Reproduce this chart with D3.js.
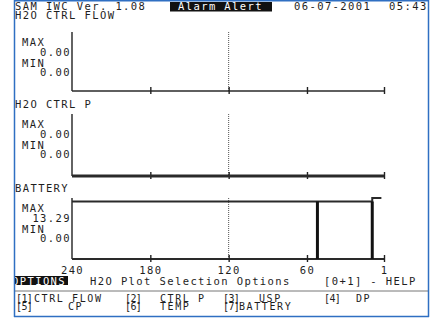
<!DOCTYPE html>
<html>
<head>
<meta charset="utf-8">
<script src="https://cdn.jsdelivr.net/npm/d3@7"></script>
<style>
  html, body { margin: 0; padding: 0; background: #fff; }
  svg text { font-family: 'DejaVu Sans Mono', monospace; font-size: 10.5px; fill: #1e1e1e; letter-spacing: 1.4px; }
  svg text.menu { font-size: 10px; letter-spacing: 1.6px; }
  svg text.menu.key { letter-spacing: -0.6px; }
</style>
</head>
<body>
<div id="chart"></div>
<script>
// time axis (seconds back from now)
const xTicks = [240, 180, 120, 60, 1];
const xTickLabels = ['240', '180', '120', '60', '1'];
const markerTime = 120;

// plot panels
const panelNames = ['H2O CTRL FLOW', 'H2O CTRL P', 'BATTERY'];
const panelMax = [0.00, 0.00, 13.29];
const panelMin = [0.00, 0.00, 0.00];

// traces: [time, value]
const flowSeries = [];
const ctrlPSeries = [[240, 0], [1, 0]];
const batterySeries = [[240, 13.29], [10, 13.29], [10, 14.1], [3, 14.1]];
const batteryDrops = [52, 10];
const seriesList = [flowSeries, ctrlPSeries, batterySeries];

// menu texts
const menuRow1 = ['[1]', 'CTRL FLOW', '[2]', 'CTRL P', '[3]', 'USP', '[4]', 'DP'];
const menuRow2 = ['[5]', 'CP', '[6]', 'TEMP', '[7]', 'BATTERY'];

const W = 432, H = 320;
const svg = d3.select('#chart').append('svg')
  .attr('width', W).attr('height', H);

// panel geometry
const layout = [
  { title: 19, top: 32, base: 91, lw: 1.6 },
  { title: 108, top: 114, base: 176, lw: 1.6 },
  { title: 192, top: 198, base: 259, lw: 1.8 }
];

const x = d3.scaleLinear().domain([240, 1]).range([72, 384]);

// header
svg.append('text').attr('x', 15).attr('y', 10).text('SAM IWC Ver. 1.08');
svg.append('rect').attr('x', 170).attr('y', 2).attr('width', 102).attr('height', 9.5).attr('fill', '#111');
svg.append('text').attr('x', 178).attr('y', 10).style('fill', '#fff').text('Alarm Alert');
svg.append('text').attr('x', 294).attr('y', 10).text('06-07-2001');
svg.append('text').attr('x', 389).attr('y', 10).text('05:43');

layout.forEach((p, i) => {
  const g = svg.append('g');
  const lo = panelMin[i], hi = panelMax[i];
  const y = d3.scaleLinear()
    .domain(hi === lo ? [lo, lo + 1] : [lo, hi])
    .range([p.base, p.top + 3.5]);

  g.append('text').attr('x', 15).attr('y', p.title).text(panelNames[i]);
  g.append('text').attr('x', 22).attr('y', p.top + 14).text('MAX');
  g.append('text').attr('x', 71).attr('y', p.top + 23.5).attr('text-anchor', 'end').text(hi.toFixed(2));
  g.append('text').attr('x', 22).attr('y', p.top + 34.5).text('MIN');
  g.append('text').attr('x', 71).attr('y', p.top + 44).attr('text-anchor', 'end').text(lo.toFixed(2));

  // marker line
  g.append('line')
    .attr('x1', x(markerTime)).attr('x2', x(markerTime))
    .attr('y1', p.top).attr('y2', p.base)
    .attr('stroke', '#555').attr('stroke-width', 1).attr('stroke-dasharray', '1,1');

  // left axis
  g.append('line')
    .attr('x1', x(240)).attr('x2', x(240))
    .attr('y1', p.top).attr('y2', p.base)
    .attr('stroke', '#222').attr('stroke-width', 1.4);

  // baseline
  g.append('line')
    .attr('x1', x(240)).attr('x2', x(1))
    .attr('y1', p.base).attr('y2', p.base)
    .attr('stroke', '#2a2a2a').attr('stroke-width', p.lw);

  // ticks crossing the baseline
  const axis = g.append('g')
    .attr('transform', `translate(0,${p.base - 4})`)
    .call(d3.axisBottom(x).tickValues(xTicks.slice(1)).tickSize(7).tickFormat(''));
  axis.select('.domain').remove();
  axis.selectAll('line').attr('stroke', '#222').attr('stroke-width', 1.4);

  const data = seriesList[i];
  if (data.length) {
    const line = d3.line()
      .x(d => x(d[0]))
      .y(d => y(d[1]));
    g.append('path')
      .datum(data)
      .attr('fill', 'none')
      .attr('stroke', '#2a2a2a')
      .attr('stroke-width', i === 1 ? 3 : 2)
      .attr('d', line);
  }

  if (i === 2) {
    g.selectAll('.drop')
      .data(batteryDrops)
      .enter()
      .append('line')
      .attr('class', 'drop')
      .attr('x1', d => x(d)).attr('x2', d => x(d))
      .attr('y1', y(0)).attr('y2', y(hi))
      .attr('stroke', '#111').attr('stroke-width', 3);
  }
});

// time tick labels
const labelAxis = svg.append('g')
  .attr('transform', 'translate(0,264)')
  .call(d3.axisBottom(x).tickValues(xTicks).tickSize(0).tickFormat((d, i) => xTickLabels[i]));
labelAxis.select('.domain').remove();
labelAxis.selectAll('text')
  .attr('dy', 0).attr('y', 9.5)
  .style('font-family', "'DejaVu Sans Mono', monospace")
  .style('font-size', '10.5px');

// options bar
svg.append('rect').attr('x', 15).attr('y', 276).attr('width', 53).attr('height', 9).attr('fill', '#111');
svg.append('text').attr('x', 12).attr('y', 284.5).style('fill', '#fff').text('OPTIONS');
svg.append('text').attr('x', 90).attr('y', 284.5).text('H2O Plot Selection Options');
svg.append('text').attr('x', 324).attr('y', 284.5).text('[0+1] - HELP');

svg.append('line').attr('x1', 15).attr('x2', 428).attr('y1', 291).attr('y2', 291)
  .attr('stroke', '#777').attr('stroke-width', 1);

const row1X = [16, 34, 125, 160, 223, 259, 324, 356];
const row2X = [16, 68, 125, 160, 223, 239];
svg.selectAll('.m1').data(menuRow1).enter().append('text')
  .attr('class', d => d[0] === '[' ? 'menu key m1' : 'menu m1')
  .attr('x', (d, i) => row1X[i]).attr('y', 301.5)
  .text(d => d);
svg.selectAll('.m2').data(menuRow2).enter().append('text')
  .attr('class', d => d[0] === '[' ? 'menu key m2' : 'menu m2')
  .attr('x', (d, i) => row2X[i]).attr('y', 310)
  .text(d => d);

// screen frame
svg.append('rect').attr('x', 429).attr('y', 0).attr('width', 3).attr('height', H).attr('fill', '#fff');
svg.append('rect').attr('x', 0).attr('y', 0).attr('width', 14).attr('height', H).attr('fill', '#fff');
svg.append('line').attr('x1', 14.5).attr('x2', 14.5).attr('y1', 0).attr('y2', 317).attr('stroke', '#2f6fc2').attr('stroke-width', 1.5);
svg.append('line').attr('x1', 428.5).attr('x2', 428.5).attr('y1', 0).attr('y2', 317).attr('stroke', '#2f6fc2').attr('stroke-width', 1.5);
svg.append('line').attr('x1', 14).attr('x2', 429).attr('y1', 0.75).attr('y2', 0.75).attr('stroke', '#2f6fc2').attr('stroke-width', 1.5);
svg.append('line').attr('x1', 14).attr('x2', 429).attr('y1', 316.5).attr('y2', 316.5).attr('stroke', '#2f6fc2').attr('stroke-width', 1.5);
</script>
</body>
</html>
